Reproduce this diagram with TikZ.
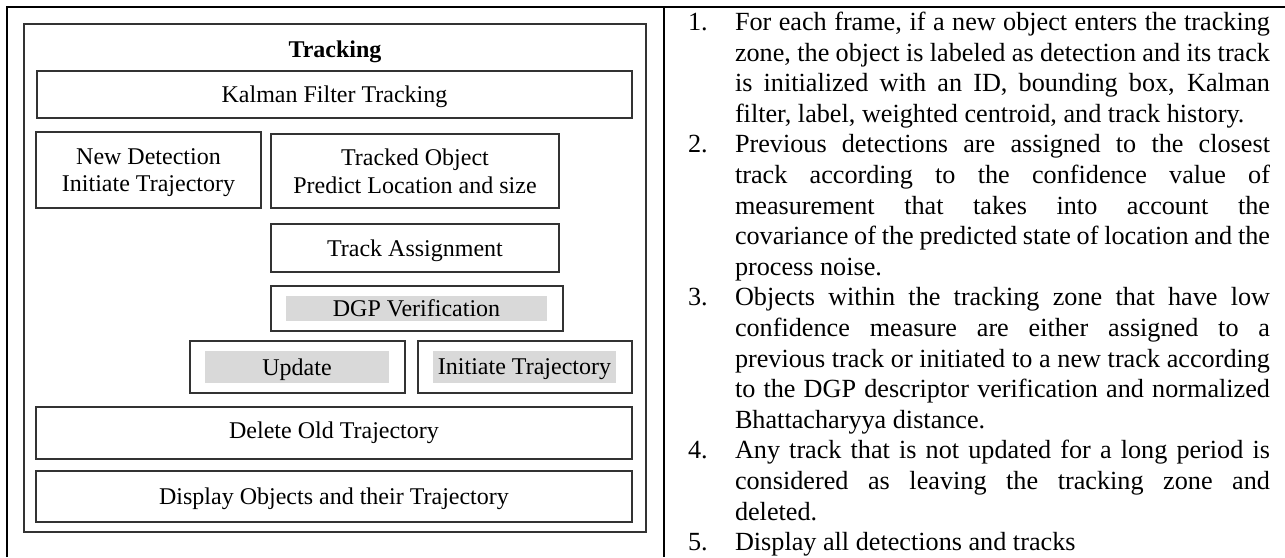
\documentclass[tikz,border=0pt]{standalone}
\usepackage{fontspec}
\setmainfont{Liberation Serif}
\definecolor{hlgray}{HTML}{D9D9D9}
\newcommand\diagfont{\fontsize{12}{13.9}\selectfont}
\newcommand\bodyfont{\fontsize{13.1}{15.3}\selectfont}
% one fully justified line of the step list
\newcommand\jline[1]{\makebox[267.5pt][s]{#1}}
\tikzset{
  frame/.style={line width=1pt, black},
  box/.style={draw=black!80, line width=0.6pt, fill=white, inner sep=0pt,
    outer sep=0pt, align=center, font=\diagfont, text depth=0pt},
  hl/.style={fill=hlgray, inner sep=0pt, outer sep=0pt, font=\diagfont, text depth=0pt},
  txtline/.style={anchor=base west, inner sep=0pt, outer sep=0pt, font=\bodyfont},
}
\begin{document}
\begin{tikzpicture}[x=0.5pt, y=-0.5pt]
\useasboundingbox (0,0) rectangle (1285,557);

% table rules
\draw[frame] (7,557) -- (7,6.5) -- (1285,6.5);
\draw[frame] (663.7,6.5) -- (663.7,557);

% tracking block
\node[box, minimum width=311pt, minimum height=254pt] (trk) at (335,278) {};
\node[font=\diagfont\bfseries, inner sep=0pt, anchor=base] (title) at (335,57) {Tracking};
\node[box, minimum width=297.5pt, minimum height=23.5pt] (kal) at (334.5,94.5) {Kalman Filter Tracking};
\node[box, minimum width=112.5pt, minimum height=38pt] (newdet) at (148.5,170) {New Detection\\Initiate Trajectory};
\node[box, minimum width=144pt, minimum height=37pt] (tracked) at (415,171) {Tracked Object\\Predict Location and size};
\node[box, minimum width=144pt, minimum height=24pt] (assign) at (415,248) {Track Assignment};
\node[box, minimum width=146pt, minimum height=22.5pt] (dgp) at (417,308.5) {};
\node[hl, minimum width=130.5pt, minimum height=12.5pt] (dgptxt) at (416.5,308.5) {DGP Verification};
\node[box, minimum width=107.5pt, minimum height=26pt] (upd) at (297.5,367) {};
\node[hl, minimum width=92pt, minimum height=16pt] (updtxt) at (297,367) {Update};
\node[box, minimum width=107pt, minimum height=26pt] (init) at (525,367) {};
\node[hl, minimum width=91.5pt, minimum height=16pt] (inittxt) at (524.5,367) {Initiate Trajectory};
\node[box, minimum width=298pt, minimum height=26pt] (del) at (334,433) {};
\node[font=\diagfont, inner sep=0pt, anchor=base] (deltxt) at (334,438.5) {Delete Old Trajectory};
\node[box, minimum width=298pt, minimum height=25.5pt] (disp) at (334,496.5) {Display Objects and their Trajectory};

% numbered steps
\node[txtline] (n1) at (688,30.5) {1.};
\node[txtline] (l1) at (735,30.5) {\jline{For each frame, if a new object enters the tracking}};
\node[txtline] (l2) at (735,61.1) {\jline{zone, the object is labeled as detection and its track}};
\node[txtline] (l3) at (735,91.7) {\jline{is initialized with an ID, bounding box, Kalman}};
\node[txtline] (l4) at (735,122.3) {filter, label, weighted centroid, and track history.};

\node[txtline] (n2) at (688,152.9) {2.};
\node[txtline] (l5) at (735,152.9) {\jline{Previous detections are assigned to the closest}};
\node[txtline] (l6) at (735,183.5) {\jline{track according to the confidence value of}};
\node[txtline] (l7) at (735,214.1) {\jline{measurement that takes into account the}};
\node[txtline] (l8) at (735,244.7) {\jline{covariance of the predicted state of location and the}};
\node[txtline] (l9) at (735,275.3) {process noise.};

\node[txtline] (n3) at (688,305.9) {3.};
\node[txtline] (l10) at (735,305.9) {\jline{Objects within the tracking zone that have low}};
\node[txtline] (l11) at (735,336.5) {\jline{confidence measure are either assigned to a}};
\node[txtline] (l12) at (735,367.1) {\jline{previous track or initiated to a new track according}};
\node[txtline] (l13) at (735,397.7) {\jline{to the DGP descriptor verification and normalized}};
\node[txtline] (l14) at (735,428.3) {Bhattacharyya distance.};

\node[txtline] (n4) at (688,458.9) {4.};
\node[txtline] (l15) at (735,458.9) {\jline{Any track that is not updated for a long period is}};
\node[txtline] (l16) at (735,489.5) {\jline{considered as leaving the tracking zone and}};
\node[txtline] (l17) at (735,520.1) {deleted.};

\node[txtline] (n5) at (688,550.7) {5.};
\node[txtline] (l18) at (735,550.7) {Display all detections and tracks};
\end{tikzpicture}
\end{document}
